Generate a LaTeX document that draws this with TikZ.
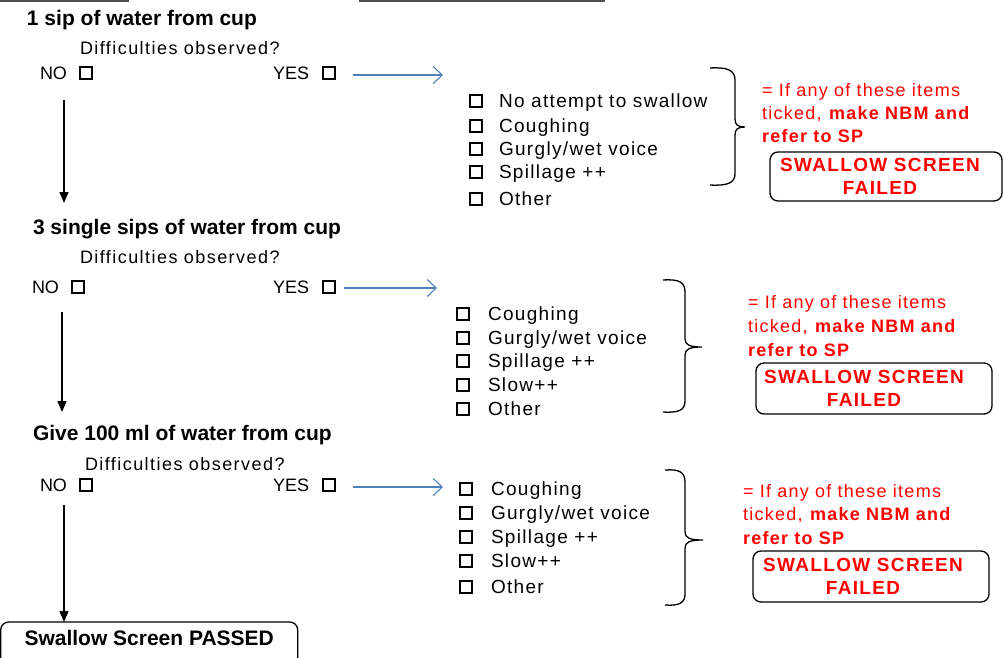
\documentclass[tikz,border=0pt]{standalone}
\usepackage{fontspec}
\setmainfont{Liberation Sans}
\newfontfamily\askfamily[LetterSpace=8]{Liberation Sans}
\newfontfamily\itemfamily[LetterSpace=7]{Liberation Sans}
\newfontfamily\notefamily[LetterSpace=7]{Liberation Sans}
\usetikzlibrary{arrows.meta}
\definecolor{flowblue}{RGB}{79,129,189}
\definecolor{alertred}{RGB}{255,0,0}
\definecolor{edgegrey}{RGB}{80,80,80}

\begin{document}
\begin{tikzpicture}[x=1pt,y=-1pt,
  every node/.style={inner sep=0pt, outer sep=0pt},
  stage/.style={anchor=west, font=\fontsize{21}{25}\selectfont\bfseries, text height=15pt, text depth=0pt},
  ask/.style={anchor=west, font=\fontsize{18}{22}\askfamily, text height=13pt, text depth=0pt},
  yn/.style={anchor=west, font=\fontsize{18}{22}\selectfont, text height=13pt, text depth=0pt},
  chk/.style={draw, line width=1.5pt, minimum size=12pt},
  item/.style={anchor=west, font=\fontsize{19}{23}\itemfamily, text height=13.7pt, text depth=0pt},
  note/.style={anchor=west, text=alertred, font=\fontsize{18}{22}\notefamily, text height=13pt, text depth=0pt},
  failbox/.style={draw, line width=1.3pt, rounded corners=8pt, text=alertred, align=center,
    font=\fontsize{19}{23}\notefamily\bfseries},
  passbox/.style={draw, line width=1.3pt, rounded corners=8pt, font=\fontsize{21}{25}\selectfont\bfseries},
  down/.style={draw, line width=1.3pt, -{Triangle[length=11pt,width=9pt]}},
  yesarrow/.style={draw=flowblue, line width=1.1pt, -{Straight Barb[length=9pt,width=17pt]}},
  brace/.style={draw, line width=1.3pt},
  rim/.style={draw=edgegrey, line width=1.6pt},
]
\useasboundingbox (0,0) rectangle (1004,657);

% edges of the boxes above
\draw[rim] (0,1) -- (129,1);
\draw[rim] (359,1) -- (605,1);

% ---------- stage 1 ----------
\node (t1) [stage] at (27,18) {1 sip of water from cup};
\node (q1) [ask] at (80,48) {Difficulties observed?};
\node (no1) [yn] at (40,73) {NO};
\node (no1box) [chk, anchor=west] at ([xshift=13pt]no1.east) {};
\node (yes1) [yn] at (273,73) {YES};
\node (yes1box) [chk, anchor=west] at ([xshift=14pt]yes1.east) {};
\coordinate (y1end) at (443,75);
\draw[yesarrow] ([shift={(18,2)}]yes1box.east) -- (y1end);

\node (c1a) [chk] at (476,101) {}; \node (i1a) [item] at (499,101) {No attempt to swallow};
\node (c1b) [chk] at (476,126) {}; \node (i1b) [item] at (499,126) {Coughing};
\node (c1c) [chk] at (476,149) {}; \node (i1c) [item] at (499,149) {Gurgly/wet voice};
\node (c1d) [chk] at (476,172) {}; \node (i1d) [item] at (499,172) {Spillage ++};
\node (c1e) [chk] at (476,199) {}; \node (i1e) [item] at (499,199) {Other};

\draw[brace] (710,68) .. controls (727,67) and (735,70) .. (735,80) -- (735,119)
  .. controls (735,125) and (738,127) .. (745,127)
  .. controls (738,127) and (735,129) .. (735,135) -- (735,174)
  .. controls (735,183) and (727,186) .. (710,185);

\node (n1a) [note] at (762,90) {= If any of these items};
\node (n1b) [note] at (762,113) {ticked, \textbf{make NBM and}};
\node (n1c) [note] at (762,136) {\textbf{refer to SP}};
\node (f1) [failbox, minimum width=232pt, minimum height=49pt] at (886,176.5)
  {SWALLOW SCREEN\hspace*{12pt}\\FAILED\hspace*{12pt}};

\coordinate (d1a) at (64,100);
\coordinate (d1b) at (64,203);
\draw[down] (d1a) -- (d1b);

% ---------- stage 2 ----------
\node (t2) [stage] at (33,227) {3 single sips of water from cup};
\node (q2) [ask] at (80,257) {Difficulties observed?};
\node (no2) [yn] at (32,287) {NO};
\node (no2box) [chk, anchor=west] at ([xshift=13pt]no2.east) {};
\node (yes2) [yn] at (273,287) {YES};
\node (yes2box) [chk, anchor=west] at ([xshift=14pt]yes2.east) {};
\coordinate (y2end) at (437,288);
\draw[yesarrow] ([shift={(9,1)}]yes2box.east) -- (y2end);

\node (c2a) [chk] at (463,314) {}; \node (i2a) [item] at (488,314) {Coughing};
\node (c2b) [chk] at (463,338) {}; \node (i2b) [item] at (488,338) {Gurgly/wet voice};
\node (c2c) [chk] at (463,361) {}; \node (i2c) [item] at (488,361) {Spillage ++};
\node (c2d) [chk] at (463,385) {}; \node (i2d) [item] at (488,385) {Slow++};
\node (c2e) [chk] at (463,409) {}; \node (i2e) [item] at (488,409) {Other};

\draw[brace] (663,280) .. controls (679,279) and (685,282) .. (685,292) -- (685,339)
  .. controls (685,345) and (690,347) .. (702,347)
  .. controls (690,347) and (685,349) .. (685,355) -- (685,401)
  .. controls (685,410) and (679,413) .. (663,412);

\node (n2a) [note] at (748,302) {= If any of these items};
\node (n2b) [note] at (748,326) {ticked, \textbf{make NBM and}};
\node (n2c) [note] at (748,350) {\textbf{refer to SP}};
\node (f2) [failbox, minimum width=236pt, minimum height=51pt] at (874,388.5)
  {SWALLOW SCREEN\hspace*{20pt}\\FAILED\hspace*{20pt}};

\coordinate (d2a) at (62,312);
\coordinate (d2b) at (62,412);
\draw[down] (d2a) -- (d2b);

% ---------- stage 3 ----------
\node (t3) [stage] at (33,433) {Give 100 ml of water from cup};
\node (q3) [ask] at (85,464) {Difficulties observed?};
\node (no3) [yn] at (40,485) {NO};
\node (no3box) [chk, anchor=west] at ([xshift=13pt]no3.east) {};
\node (yes3) [yn] at (273,485) {YES};
\node (yes3box) [chk, anchor=west] at ([xshift=14pt]yes3.east) {};
\coordinate (y3end) at (443,487);
\draw[yesarrow] ([shift={(18,2)}]yes3box.east) -- (y3end);

\node (c3a) [chk] at (466,489) {}; \node (i3a) [item] at (491,489) {Coughing};
\node (c3b) [chk] at (466,513) {}; \node (i3b) [item] at (491,513) {Gurgly/wet voice};
\node (c3c) [chk] at (466,537) {}; \node (i3c) [item] at (491,537) {Spillage ++};
\node (c3d) [chk] at (466,561) {}; \node (i3d) [item] at (491,561) {Slow++};
\node (c3e) [chk] at (466,587) {}; \node (i3e) [item] at (491,587) {Other};

\draw[brace] (665,470) .. controls (679,469) and (685,472) .. (685,482) -- (685,532)
  .. controls (685,538) and (690,540) .. (703,540)
  .. controls (690,540) and (685,542) .. (685,548) -- (685,594)
  .. controls (685,603) and (679,606) .. (665,605);

\node (n3a) [note] at (743,491) {= If any of these items};
\node (n3b) [note] at (743,514) {ticked, \textbf{make NBM and}};
\node (n3c) [note] at (743,538) {\textbf{refer to SP}};
\node (f3) [failbox, minimum width=236pt, minimum height=51pt] at (871,576.5)
  {SWALLOW SCREEN\hspace*{16pt}\\FAILED\hspace*{16pt}};

\coordinate (d3a) at (64,505);
\node (passed) [passbox, anchor=north west, minimum width=297pt, minimum height=46pt] at (0.7,622)
  {\raisebox{0pt}[0pt][0pt]{Swallow Screen PASSED}};
\draw[down] (d3a) -- (passed.north -| d3a);
\end{tikzpicture}
\end{document}
